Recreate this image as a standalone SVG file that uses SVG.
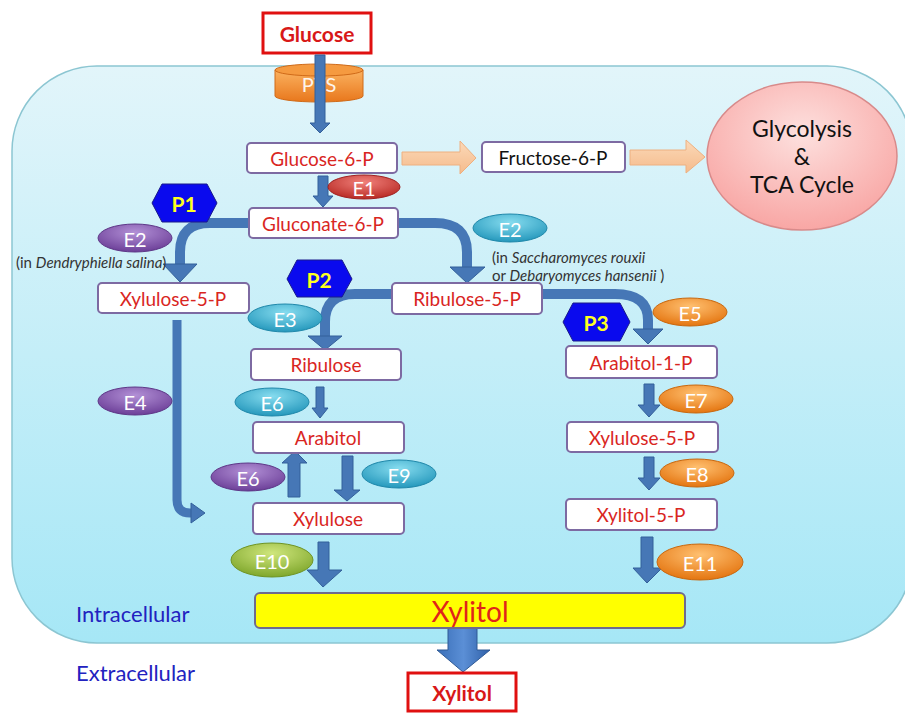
<svg xmlns="http://www.w3.org/2000/svg" width="905" height="713" viewBox="0 0 905 713">
<defs>
<linearGradient id="bg" x1="0" y1="0" x2="0" y2="1"><stop offset="0" stop-color="#e2f5fa"/><stop offset="1" stop-color="#a6e7f6"/></linearGradient>
<linearGradient id="peach" x1="0" y1="0" x2="0" y2="1"><stop offset="0" stop-color="#fbd9b8"/><stop offset="1" stop-color="#f5bb8c"/></linearGradient>
<radialGradient id="pink" cx="0.5" cy="0.35" r="0.7"><stop offset="0" stop-color="#fde0de"/><stop offset="1" stop-color="#f8a2a0"/></radialGradient>
<linearGradient id="orangeCyl" x1="0" y1="0" x2="0" y2="1"><stop offset="0" stop-color="#fbb260"/><stop offset="1" stop-color="#e8771c"/></linearGradient>
<radialGradient id="gRed" cx="0.5" cy="0.3" r="0.7"><stop offset="0" stop-color="#f0807a"/><stop offset="1" stop-color="#b82a24"/></radialGradient>
<radialGradient id="gPur" cx="0.5" cy="0.3" r="0.7"><stop offset="0" stop-color="#b290d6"/><stop offset="1" stop-color="#6c3f98"/></radialGradient>
<radialGradient id="gCyan" cx="0.5" cy="0.3" r="0.7"><stop offset="0" stop-color="#86dcef"/><stop offset="1" stop-color="#2598bc"/></radialGradient>
<radialGradient id="gOra" cx="0.5" cy="0.3" r="0.7"><stop offset="0" stop-color="#ffc070"/><stop offset="1" stop-color="#e47510"/></radialGradient>
<radialGradient id="gGrn" cx="0.5" cy="0.3" r="0.7"><stop offset="0" stop-color="#cfe67c"/><stop offset="1" stop-color="#7fa72c"/></radialGradient>
<linearGradient id="bigArrow" x1="0" y1="0" x2="1" y2="0"><stop offset="0" stop-color="#3a6fb8"/><stop offset="0.5" stop-color="#5b8fd6"/><stop offset="1" stop-color="#2f60a8"/></linearGradient>
</defs>
<style>
text{font-family:Lato,"Liberation Sans",sans-serif;}
.box{fill:#fff;stroke:#7d6aa2;stroke-width:2;}
.lbl{fill:#d9261f;font-size:19px;text-anchor:middle;dominant-baseline:central;}
.blk{fill:#111;font-size:19px;text-anchor:middle;dominant-baseline:central;}
.big{font-size:23px;}
.enz{fill:#fff;font-size:20px;text-anchor:middle;dominant-baseline:central;}
.ell{stroke-width:1;}
.hex{fill:#0a0aee;stroke:#1a1a8a;stroke-width:1;}
.htx{fill:#ffff20;font-size:21px;font-weight:bold;text-anchor:middle;dominant-baseline:central;}
.shaft{fill:none;stroke:#4677b6;stroke-width:10;}
.head{fill:#4677b6;stroke:#33609a;stroke-width:1;}
.arr{fill:#4677b6;stroke:#33609a;stroke-width:1;}
.note{fill:#333;font-size:15px;}
.red{fill:#fff;stroke:#e01010;stroke-width:3;}
.rtx{fill:#d81818;font-size:21px;font-weight:bold;text-anchor:middle;dominant-baseline:central;}
.cell{fill:#2222c0;font-size:22px;}
</style>

<g id="cell-bg"><rect x="12" y="66" width="900" height="577" rx="85" ry="85" fill="url(#bg)" stroke="#8cc6d2" stroke-width="1.5"/></g>

<g id="glucose"><rect class="red" x="263" y="13" width="108" height="40"/><text class="rtx" x="317" y="33">Glucose</text></g>

<g id="pts">
<path d="M275,70 V96 A44,6 0 0,0 363,96 V70 Z" fill="url(#orangeCyl)" stroke="#d06a18" stroke-width="1"/>
<ellipse cx="319" cy="70" rx="44" ry="6" fill="#f59a40" stroke="#d06a18" stroke-width="1"/>
<text x="319" y="84" fill="#fff" font-size="20" text-anchor="middle" dominant-baseline="central" opacity="0.9">PTS</text>
</g>

<g id="connectors">
<polygon class="arr" points="315,55 325,55 325,123 330,123 320,133 310,123 315,123"/>
<polygon points="402,152 460,152 460,141 476,158 460,174 460,165 402,165" fill="url(#peach)" stroke="#eeb080" stroke-width="1"/>
<polygon points="630,150 686,150 686,140 705,157 686,173 686,165 630,165" fill="url(#peach)" stroke="#eeb080" stroke-width="1"/>
<polygon class="arr" points="318,176 328,176 328,196 333,196 323,207 313,196 318,196"/>
<path class="shaft" d="M249,223 H210 Q180,223 180,252 V265"/>
<polygon class="head" points="163,264 197,264 180,282"/>
<path class="shaft" d="M397,223 H435 Q467,223 467,252 V268"/>
<polygon class="head" points="450,267 485,267 467,283"/>
<path class="shaft" d="M392,294 H355 Q325,294 325,322 V337"/>
<polygon class="head" points="308,336 342,336 325,350"/>
<path class="shaft" d="M541,294 H615 Q648,294 648,320 V330"/>
<polygon class="head" points="633,329 663,329 648,344"/>
<path class="shaft" style="stroke-width:9" d="M177,320 V500 Q177,513 190,513 H193"/>
<polygon class="head" points="191,503 191,523 205,513"/>
<polygon class="arr" points="316,387 324,387 324,408 328,408 320,418 312,408 316,408"/>
<polygon class="arr" points="288,497 300,497 300,463 307,463 295,451 282,463 288,463"/>
<polygon class="arr" points="342,456 353,456 353,490 360,490 347,501 334,490 342,490"/>
<polygon class="arr" points="318,542 329,542 329,570 342,570 323,587 307,570 318,570"/>
<polygon class="arr" points="644,384 654,384 654,405 660,405 649,417 638,405 644,405"/>
<polygon class="arr" points="644,457 654,457 654,478 660,478 649,490 638,478 644,478"/>
<polygon class="arr" points="641,537 653,537 653,568 662,568 647,583 633,568 641,568"/>
<polygon points="448,628 477,628 477,650 490,650 463,672 437,650 448,650" fill="url(#bigArrow)" stroke="#2f5a95" stroke-width="1"/>
</g>

<g id="glucose-6-p"><rect class="box" x="247" y="143" width="150" height="30" rx="4"/><text class="lbl" x="322" y="158">Glucose-6-P</text></g>
<g id="fructose-6-p"><rect class="box" x="482" y="142" width="143" height="30" rx="4"/><text class="blk" x="553" y="157">Fructose-6-P</text></g>
<g id="glycolysis"><ellipse cx="802" cy="156" rx="95" ry="74" fill="url(#pink)" stroke="#d88a8a" stroke-width="1.5"/>
<text class="blk big" x="802" y="128">Glycolysis</text><text class="blk big" x="802" y="156">&amp;</text><text class="blk big" x="802" y="184">TCA Cycle</text></g>
<g id="gluconate-6-p"><rect class="box" x="249" y="208" width="149" height="30" rx="4"/><text class="lbl" x="323" y="223">Gluconate-6-P</text></g>
<g id="xylulose-5-p-left"><rect class="box" x="98" y="283" width="151" height="30" rx="4"/><text class="lbl" x="173" y="298">Xylulose-5-P</text></g>
<g id="ribulose-5-p"><rect class="box" x="392" y="283" width="150" height="31" rx="4"/><text class="lbl" x="467" y="298">Ribulose-5-P</text></g>
<g id="ribulose"><rect class="box" x="251" y="349" width="150" height="31" rx="4"/><text class="lbl" x="326" y="364">Ribulose</text></g>
<g id="arabitol"><rect class="box" x="253" y="422" width="151" height="31" rx="4"/><text class="lbl" x="328" y="437">Arabitol</text></g>
<g id="xylulose"><rect class="box" x="253" y="503" width="151" height="31" rx="4"/><text class="lbl" x="328" y="518">Xylulose</text></g>
<g id="arabitol-1-p"><rect class="box" x="566" y="346" width="151" height="32" rx="4"/><text class="lbl" x="641" y="362">Arabitol-1-P</text></g>
<g id="xylulose-5-p-right"><rect class="box" x="567" y="422" width="151" height="30" rx="4"/><text class="lbl" x="642" y="437">Xylulose-5-P</text></g>
<g id="xylitol-5-p"><rect class="box" x="566" y="499" width="151" height="31" rx="4"/><text class="lbl" x="641" y="514">Xylitol-5-P</text></g>
<g id="xylitol-bar"><rect x="255" y="593" width="430" height="35" rx="5" fill="#ffff00" stroke="#6f6a8e" stroke-width="2"/><text x="470" y="611" fill="#e0241a" font-size="28" text-anchor="middle" dominant-baseline="central">Xylitol</text></g>
<g id="xylitol-out"><rect class="red" x="408" y="673" width="108" height="38"/><text class="rtx" x="462" y="692">Xylitol</text></g>

<g id="p1"><polygon class="hex" points="152,203 162,184 207,184 217,203 207,222 162,222"/><text class="htx" x="184" y="203">P1</text></g>
<g id="p2"><polygon class="hex" points="287,279 297,260 342,260 352,279 342,297 297,297"/><text class="htx" x="319" y="279">P2</text></g>
<g id="p3"><polygon class="hex" points="563,322 573,303 620,303 630,322 620,341 573,341"/><text class="htx" x="596" y="322">P3</text></g>

<g id="e1"><ellipse class="ell" cx="364" cy="187" rx="36" ry="12" fill="url(#gRed)" stroke="#a02020"/><text class="enz" x="364" y="188">E1</text></g>
<g id="e2-left"><ellipse class="ell" cx="135" cy="238" rx="37" ry="14" fill="url(#gPur)" stroke="#5e3888"/><text class="enz" x="135" y="239">E2</text></g>
<g id="e2-right"><ellipse class="ell" cx="510" cy="228" rx="37" ry="14" fill="url(#gCyan)" stroke="#2088aa"/><text class="enz" x="510" y="229">E2</text></g>
<g id="e3"><ellipse class="ell" cx="285" cy="318" rx="37" ry="14" fill="url(#gCyan)" stroke="#2088aa"/><text class="enz" x="285" y="319">E3</text></g>
<g id="e4"><ellipse class="ell" cx="135" cy="401" rx="37" ry="14" fill="url(#gPur)" stroke="#5e3888"/><text class="enz" x="135" y="402">E4</text></g>
<g id="e5"><ellipse class="ell" cx="690" cy="312" rx="37" ry="14" fill="url(#gOra)" stroke="#c86810"/><text class="enz" x="690" y="313">E5</text></g>
<g id="e6-top"><ellipse class="ell" cx="272" cy="402" rx="37" ry="14" fill="url(#gCyan)" stroke="#2088aa"/><text class="enz" x="272" y="403">E6</text></g>
<g id="e7"><ellipse class="ell" cx="696" cy="399" rx="37" ry="14" fill="url(#gOra)" stroke="#c86810"/><text class="enz" x="696" y="400">E7</text></g>
<g id="e6-bottom"><ellipse class="ell" cx="248" cy="477" rx="37" ry="14" fill="url(#gPur)" stroke="#5e3888"/><text class="enz" x="248" y="478">E6</text></g>
<g id="e9"><ellipse class="ell" cx="399" cy="474" rx="37" ry="14" fill="url(#gCyan)" stroke="#2088aa"/><text class="enz" x="399" y="475">E9</text></g>
<g id="e8"><ellipse class="ell" cx="697" cy="473" rx="37" ry="14" fill="url(#gOra)" stroke="#c86810"/><text class="enz" x="697" y="474">E8</text></g>
<g id="e10"><ellipse class="ell" cx="272" cy="560" rx="41" ry="17" fill="url(#gGrn)" stroke="#6f9424"/><text class="enz" x="272" y="561">E10</text></g>
<g id="e11"><ellipse class="ell" cx="700" cy="562" rx="43" ry="18" fill="url(#gOra)" stroke="#c86810"/><text class="enz" x="700" y="563">E11</text></g>

<g id="notes">
<text class="note" x="16" y="268">(in <tspan font-style="italic">Dendryphiella salina</tspan>)</text>
<text class="note" x="492" y="263">(in <tspan font-style="italic">Saccharomyces rouxii</tspan></text>
<text class="note" x="492" y="281">or <tspan font-style="italic">Debaryomyces hansenii</tspan> )</text>
</g>

<g id="compartments">
<text class="cell" x="76" y="622">Intracellular</text>
<text class="cell" x="76" y="681">Extracellular</text>
</g>
</svg>
